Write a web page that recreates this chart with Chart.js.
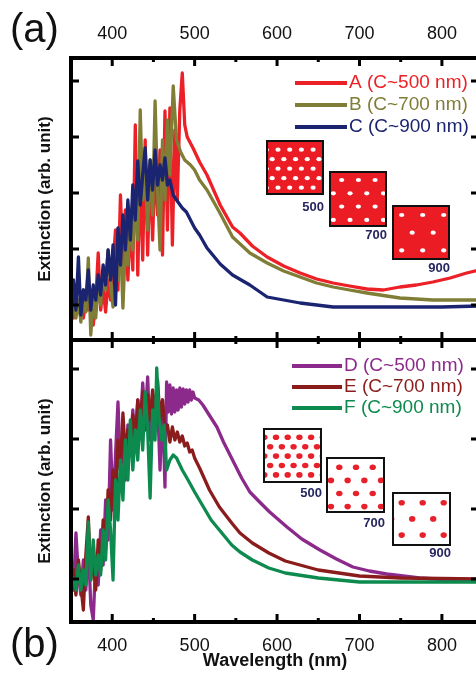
<!DOCTYPE html>
<html>
<head>
<meta charset="utf-8">
<script src="https://cdn.jsdelivr.net/npm/chart.js@4.4.1/dist/chart.umd.min.js"></script>
<style>
    html, body { margin: 0; padding: 0; background: #fff; }
    #wrap { position: relative; width: 476px; height: 673px; overflow: hidden; }
    #topChart { position: absolute; left: 0; top: 0; }
    #bottomChart { position: absolute; left: 0; top: 330px; }
    .panel { position: absolute; left: 10px; font: 40px "Liberation Sans", Arial, sans-serif; line-height: 1; color: #111; }
</style>
</head>
<body>
<div id="wrap">
    <canvas id="topChart" width="490" height="345"></canvas>
    <canvas id="bottomChart" width="490" height="343"></canvas>
    <div class="panel" style="top:8px">(a)</div>
    <div class="panel" style="top:623px">(b)</div>
</div>
<script>
// wavelength (nm) and extinction (arb. unit)
const wlA = [350,353,356,359,362,365,368,371,374,377,380,383,386,389,392,395,398,401,404,407,410,413,416,419,422,425,428,431,434,437,440,443,446,449,452,455,458,461,464,467,470,473,476,479,482,485,488,491,498,506,515,531,546,555,570,588,608,628,648,668,688,709,729,749,769,789,810,830,845];
const valA = [4.0,2.2,3.5,2.8,4.2,2.2,4.0,3.0,4.5,1.5,4.0,8.7,3.0,5.2,2.8,6.0,4.0,7.5,11.0,5.0,14.5,7.5,13.0,6.0,12.0,7.0,21.5,6.5,17.0,8.0,20.0,8.5,17.5,10.0,18.0,12.5,19.0,8.5,22.9,11.0,23.2,9.5,21.0,14.0,23.0,26.7,21.5,20.3,19.2,17.8,16.5,13.5,11.3,10.7,9.4,8.3,7.4,6.7,6.1,5.7,5.4,5.1,5.0,5.3,5.5,5.8,6.2,6.7,7.0];

const wlB = [350,353,356,359,362,365,368,371,374,377,380,383,386,389,392,395,398,401,404,407,410,413,416,419,422,425,428,431,434,437,440,443,446,449,452,455,458,461,464,467,470,474,478,483,488,495,500,506,515,530,546,567,588,608,628,648,668,688,709,749,789,845];
const valB = [3.0,4.5,2.2,4.0,1.8,5.0,2.8,8.2,0.5,4.0,2.2,5.5,3.5,7.0,5.0,9.0,5.5,3.3,8.5,6.0,10.0,3.2,9.5,7.5,12.0,9.0,15.0,10.0,23.0,14.0,17.0,11.0,18.0,12.5,23.9,15.0,9.0,20.0,14.0,22.0,16.5,25.4,20.0,18.8,18.0,17.5,17.0,16.0,15.0,12.8,10.3,8.7,7.7,6.9,6.3,5.7,5.3,5.0,4.7,4.2,4.0,4.0];

const wlC = [350,353,356,359,362,365,368,371,374,377,380,383,386,389,392,395,398,401,404,407,410,413,416,419,422,425,428,431,434,437,440,443,446,449,452,455,458,461,464,467,470,474,478,485,490,500,506,515,531,546,567,588,608,628,668,709,750,800,845];
const valC = [2.0,6.0,3.0,8.3,2.5,5.0,4.0,7.0,3.0,5.5,4.0,6.5,4.5,7.5,5.5,9.0,6.0,9.5,3.5,11.2,7.5,12.5,9.0,14.0,10.0,15.5,12.0,17.9,13.5,16.5,19.2,14.0,18.0,15.0,19.0,15.5,17.5,16.0,18.2,15.5,16.0,14.5,14.0,13.2,12.8,11.2,10.5,9.2,7.6,6.5,5.5,4.3,4.0,3.7,3.3,3.3,3.3,3.3,3.4];

const wlD = [350,353,356,359,362,365,368,371,374,377,380,383,386,389,392,395,398,401,404,407,410,413,416,419,422,425,428,431,434,437,440,443,446,449,452,455,458,461,464,466,468,470,472,474,476,478,480,482,484,486,488,490,492,494,496,498,500,505,510,520,527,535,546,557,567,580,591,612,630,652,672,692,712,733,773,813,845];
const valD = [4.7,3.2,8.9,4.7,2.7,6.2,3.2,7.7,1.7,0.2,6.2,3.7,9.2,5.7,12.2,8.2,18.2,11.2,16.7,22.0,15.2,18.2,14.2,19.7,17.2,21.2,17.7,22.2,19.2,23.9,20.2,24.5,18.2,22.7,19.2,22.2,15.2,22.2,13.5,24.0,21.0,23.7,20.8,23.4,21.0,23.2,21.2,23.4,21.5,23.3,21.8,23.2,22.0,23.2,22.2,23.0,22.4,22.2,21.7,20.4,19.5,18.0,16.2,14.4,13.0,11.9,11.0,9.5,8.3,7.2,6.3,5.5,5.1,4.8,4.4,4.2,4.2];

const wlE = [350,353,356,359,362,365,368,371,374,377,380,383,386,389,392,395,398,401,404,407,410,413,416,419,422,425,428,431,434,437,440,443,446,449,452,455,458,461,464,467,470,473,476,479,482,485,488,491,494,497,500,506,518,530,545,555,570,590,610,650,700,750,845];
const valE = [3.2,5.2,2.7,6.2,3.7,1.2,6.7,10.5,4.2,6.2,3.2,8.2,5.2,10.2,7.2,13.2,10.2,15.2,12.2,18.2,15.2,20.9,16.7,19.2,17.7,20.7,18.2,22.2,19.7,23.0,19.2,22.7,20.2,23.2,20.7,24.2,20.2,22.2,19.2,19.7,18.0,19.5,18.2,19.0,18.0,18.6,17.6,17.9,17.0,17.2,16.4,15.4,13.2,11.5,9.9,8.9,7.9,6.9,6.1,5.2,4.6,4.4,4.3];

const wlF = [350,353,356,359,362,365,368,371,374,377,380,383,386,389,392,395,398,401,404,407,410,413,416,419,422,425,428,431,434,437,440,443,446,449,452,454,457,460,463,466,470,474,478,485,492,500,510,520,530,545,555,570,590,610,650,700,845];
const valF = [3.7,4.4,3.2,5.7,3.2,5.2,3.7,10.0,4.2,8.2,4.7,6.7,4.7,9.2,6.2,12.2,9.2,4.2,14.2,10.2,16.2,12.2,18.2,14.2,20.2,15.2,19.2,16.2,21.2,17.2,23.0,19.2,12.4,21.2,18.2,25.4,20.2,18.2,19.7,15.2,16.2,16.7,16.4,15.2,14.2,13.0,11.6,10.2,9.2,7.7,7.0,6.2,5.4,4.9,4.4,4.0,4.0];

const xTicks = [400, 500, 600, 700, 800];
const xMinorTicks = [450, 550, 650, 750];
const topYTicks = [3.5, 9.1, 14.7, 20.3, 25.9];
const bottomYTicks = [4.3, 11.3, 18.3, 25.3];

const fontFamily = '"Liberation Sans", Arial, sans-serif';

const series = (label, wl, vals, color, order) => ({
    label: label,
    data: wl.map((w, i) => ({ x: w, y: vals[i] })),
    borderColor: color,
    backgroundColor: color,
    borderWidth: 3.3,
    borderJoinStyle: "round",
    pointRadius: 0,
    order: order
});

// box round the plot with inward ticks on every side
const framePlugin = {
    id: "frame",
    afterDatasetsDraw(chart) {
        const { ctx, chartArea: a, scales } = chart;
        const xs = scales.x, ys = scales.y;
        ctx.save();
        ctx.strokeStyle = "#000";
        ctx.lineWidth = 3;
        ctx.beginPath();
        const xTick = (v, len) => {
            const px = xs.getPixelForValue(v);
            ctx.moveTo(px, a.top); ctx.lineTo(px, a.top + len);
            ctx.moveTo(px, a.bottom); ctx.lineTo(px, a.bottom - len);
        };
        xTicks.forEach(v => xTick(v, 8));
        xMinorTicks.forEach(v => xTick(v, 4));
        ys.ticks.forEach(t => {
            const py = ys.getPixelForValue(t.value);
            ctx.moveTo(a.left, py); ctx.lineTo(a.left + 8, py);
            ctx.moveTo(a.right, py); ctx.lineTo(a.right - 8, py);
        });
        ctx.stroke();
        ctx.lineWidth = 4;
        ctx.strokeRect(a.left, a.top, a.right - a.left, a.bottom - a.top);
        ctx.restore();
    }
};

const keyPlugin = {
    id: "seriesKey",
    afterDraw(chart, args, o) {
        const ctx = chart.ctx;
        ctx.save();
        ctx.font = "19px " + fontFamily;
        ctx.textBaseline = "middle";
        chart.data.datasets.forEach((ds, i) => {
            const y = o.rows[i];
            ctx.strokeStyle = ds.borderColor;
            ctx.lineWidth = 4;
            ctx.beginPath();
            ctx.moveTo(o.x1, y);
            ctx.lineTo(o.x2, y);
            ctx.stroke();
            ctx.fillStyle = ds.borderColor;
            ctx.fillText(ds.label, o.tx, y);
        });
        ctx.restore();
    }
};

// small lattice pictures next to the curves
const insetPlugin = {
    id: "insets",
    afterDatasetsDraw(chart, args, o) {
        const ctx = chart.ctx;
        o.items.forEach(it => {
            ctx.save();
            ctx.fillStyle = o.bg;
            ctx.fillRect(it.x, it.y, it.w, it.h);
            ctx.beginPath();
            ctx.rect(it.x, it.y, it.w, it.h);
            ctx.clip();
            ctx.fillStyle = o.dot;
            for (let r = 0; r < 8; r++) {
                const cy = it.y + it.oy + r * it.dy;
                if (cy > it.y + it.h + o.ry) break;
                let sx = it.ox - (r % 2 ? it.p / 2 : 0);
                while (sx > -o.rx) sx -= it.p;
                for (let cx = sx; cx < it.w + o.rx; cx += it.p) {
                    ctx.beginPath();
                    ctx.ellipse(it.x + cx, cy, o.rx, o.ry, 0, 0, 2 * Math.PI);
                    ctx.fill();
                }
            }
            ctx.restore();
            ctx.save();
            ctx.strokeStyle = "#111";
            ctx.lineWidth = 2;
            ctx.strokeRect(it.x, it.y, it.w, it.h);
            ctx.font = "bold 13px " + fontFamily;
            ctx.fillStyle = "#262660";
            ctx.textAlign = "right";
            ctx.fillText(it.label, it.x + it.w + 1, it.ly);
            ctx.restore();
        });
    }
};

const makeChart = (id, datasets, yTicks, xPosition, xHeight, padding, key, insets, showXTitle) => new Chart(document.getElementById(id), {
    type: "line",
    data: { datasets: datasets },
    plugins: [framePlugin, insetPlugin, keyPlugin],
    options: {
        responsive: false,
        animation: false,
        layout: { padding: padding },
        plugins: {
            legend: { display: false },
            tooltip: { enabled: false },
            seriesKey: key,
            insets: insets
        },
        scales: {
            x: {
                type: "linear",
                position: xPosition,
                min: 350,
                max: 845,
                afterBuildTicks: s => { s.ticks = xTicks.map(v => ({ value: v })); },
                afterFit: s => { s.height = xHeight; },
                grid: { display: false },
                border: { display: false },
                ticks: { color: "#111", padding: 5, maxRotation: 0, font: { family: fontFamily, size: 18 } },
                title: {
                    display: showXTitle,
                    text: "Wavelength (nm)",
                    color: "#111",
                    padding: { top: 0, bottom: 1 },
                    font: { family: fontFamily, size: 18, weight: "bold" }
                }
            },
            y: {
                min: 0,
                max: 28.2,
                afterBuildTicks: s => { s.ticks = yTicks.map(v => ({ value: v })); },
                afterFit: s => { s.width = 71; },
                grid: { display: false },
                border: { display: false },
                ticks: { display: false },
                title: {
                    display: true,
                    text: "Extinction (arb. unit)",
                    color: "#111",
                    padding: { top: 35, bottom: 0 },
                    font: { family: fontFamily, size: 17, weight: "bold" }
                }
            }
        }
    }
});

makeChart("topChart", [
    series("A (C~500 nm)", wlA, valA, "#ec2027", 3),
    series("B (C~700 nm)", wlB, valB, "#7f7d36", 2),
    series("C (C~900 nm)", wlC, valC, "#1b2470", 1)
], topYTicks, "top", 58, { left: 0, right: 11, top: 0, bottom: 5 },
    { rows: [83, 105, 127], x1: 295, x2: 347, tx: 349 },
    {
        bg: "#ec1c24", dot: "#fff", rx: 2.6, ry: 2.1,
        items: [
            { x: 267, y: 141, w: 56, h: 53, p: 11.7, dy: 9.5, ox: 11, oy: 8.7, label: "500", ly: 211 },
            { x: 330, y: 172, w: 56, h: 54, p: 16.7, dy: 13.3, ox: 11.7, oy: 8, label: "700", ly: 238.5 },
            { x: 393, y: 206, w: 56, h: 53, p: 21, dy: 17.7, ox: 8.7, oy: 9, label: "900", ly: 272 }
        ]
    }, false);

makeChart("bottomChart", [
    series("D (C~500 nm)", wlD, valD, "#8c2a8c", 3),
    series("E (C~700 nm)", wlE, valE, "#8b1c1c", 2),
    series("F (C~900 nm)", wlF, valF, "#0d8a4e", 1)
], bottomYTicks, "bottom", 51, { left: 0, right: 11, top: 10, bottom: 0 },
    { rows: [36, 57, 78], x1: 292, x2: 342, tx: 344 },
    {
        bg: "#fff", dot: "#e8202a", rx: 3.2, ry: 2.8,
        items: [
            { x: 264, y: 99, w: 57, h: 53, p: 11.7, dy: 9.4, ox: 12, oy: 8.3, label: "500", ly: 167 },
            { x: 327, y: 128, w: 57, h: 54, p: 16.7, dy: 13.1, ox: 12.3, oy: 9.3, label: "700", ly: 196.5 },
            { x: 393, y: 163, w: 57, h: 52, p: 21, dy: 16.2, ox: 8.7, oy: 9.7, label: "900", ly: 227 }
        ]
    }, true);
</script>
</body>
</html>
